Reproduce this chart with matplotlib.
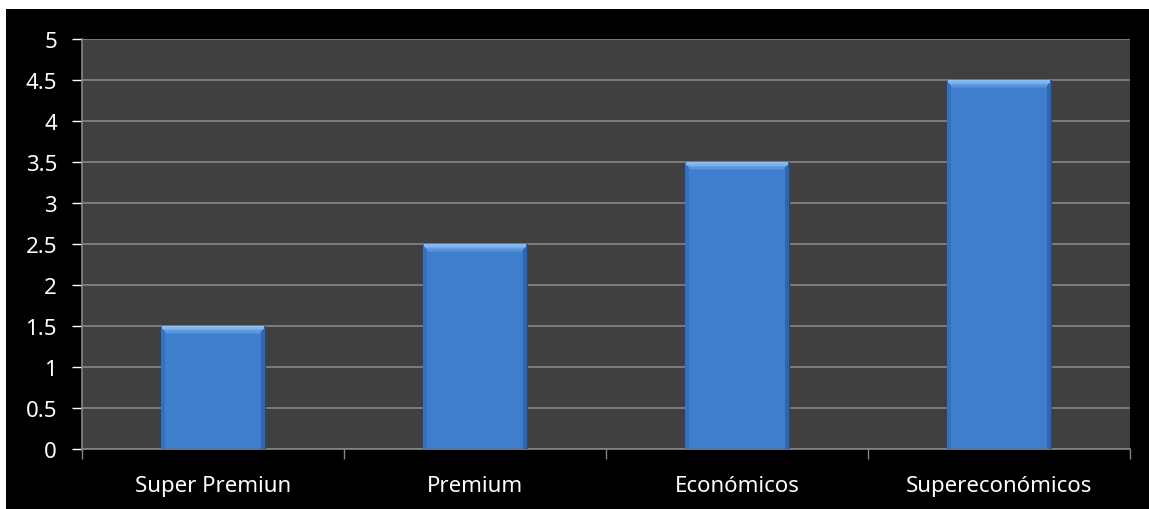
import matplotlib
matplotlib.use("Agg")
import matplotlib.pyplot as plt
import numpy as np
from matplotlib.colors import to_rgb
from matplotlib.patches import Rectangle

categories = ["Super Premiun", "Premium", "Económicos", "Supereconómicos"]
values = [1.5, 2.5, 3.5, 4.5]
y_ticks = [0, 0.5, 1, 1.5, 2, 2.5, 3, 3.5, 4, 4.5, 5]
y_labels = ["0", "0.5", "1", "1.5", "2", "2.5", "3", "3.5", "4", "4.5", "5"]

W, H = 1149, 510
fig = plt.figure(figsize=(W / 100, H / 100), dpi=100, facecolor="black")
# thin white strips on top and left of the black chart area
fig.add_artist(Rectangle((0, 1 - 10 / H), 1, 10 / H, transform=fig.transFigure,
                         facecolor="white", edgecolor="none", zorder=-5))
fig.add_artist(Rectangle((0, 0), 6 / W, 1, transform=fig.transFigure,
                         facecolor="white", edgecolor="none", zorder=-5))

ax = fig.add_axes([82 / W, 60 / H, 1048 / W, 410 / H])
ax.set_facecolor("#404040")

x = np.arange(len(categories))
bw = 0.4
grid_c = "#868686"
base_c = np.array(to_rgb("#3e7ecd"))

ax.bar(x, values, width=bw, color=base_c, edgecolor="#1e4a80", linewidth=0.8, zorder=3)
# side shading
ax.bar(x - bw / 2 + 0.008, values, width=0.016, color="#3571bd", linewidth=0, zorder=4)
ax.bar(x + bw / 2 - 0.008, values, width=0.016, color="#3066ad", linewidth=0, zorder=4)
# top bevel: stepped gradient from light to base colour
light_c = np.array(to_rgb("#8ec0f4"))
steps = 7
step_h = 0.016
for i in range(steps):
    t = i / (steps - 1)
    c = light_c * (1 - t) + base_c * t
    inset = 0.004 + i * 0.003
    ax.bar(x, [step_h] * len(values), bottom=[v - (i + 1) * step_h for v in values],
           width=bw - 2 * inset, color=c, linewidth=0, zorder=5)

ax.set_xlim(-0.5, len(categories) - 0.5)
ax.set_ylim(0, 5)
ax.set_yticks(y_ticks)
ax.set_yticklabels(y_labels)
ax.yaxis.grid(True, color=grid_c, linewidth=1.2, zorder=1)
ax.set_axisbelow(True)

ax.set_xticks(x)
ax.set_xticklabels(categories)
ax.set_xticks(np.arange(len(categories) + 1) - 0.5, minor=True)
ax.tick_params(axis="x", which="major", length=0, pad=19)
ax.tick_params(axis="x", which="minor", length=7, width=1, color=grid_c, direction="out")
ax.tick_params(axis="y", length=7, width=1, color=grid_c, direction="out", pad=11)
ax.tick_params(colors="white", labelsize=16)
for lbl in ax.get_xticklabels() + ax.get_yticklabels():
    lbl.set_color("white")
    lbl.set_fontfamily("Noto Sans")

for side in ["top", "right"]:
    ax.spines[side].set_visible(False)
for side in ["left", "bottom"]:
    ax.spines[side].set_color(grid_c)
    ax.spines[side].set_linewidth(1.2)

fig.savefig("out.png", dpi=100, facecolor=fig.get_facecolor())
